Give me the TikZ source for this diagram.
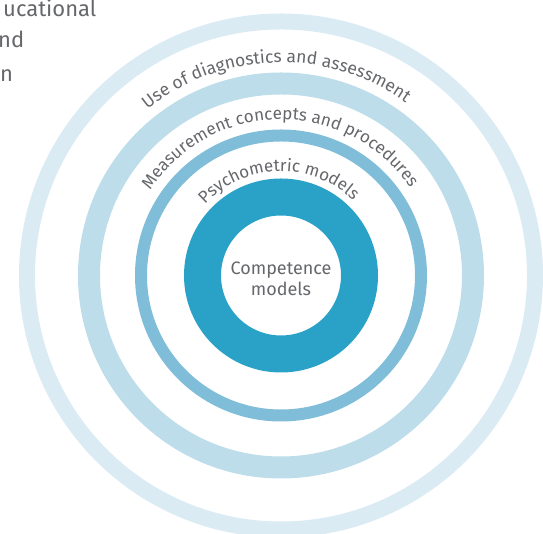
\documentclass[tikz,border=0pt]{standalone}
\usepackage{fontspec}
\setmainfont{Fira Sans}
\usetikzlibrary{decorations.text,calc}
\definecolor{ringA}{HTML}{DAEBF4}
\definecolor{ringB}{HTML}{BCDDE9}
\definecolor{ringC}{HTML}{7FBDD9}
\definecolor{ringD}{HTML}{2AA1C7}
\definecolor{txt}{HTML}{65676B}
\tikzset{
  tl/.style={inner sep=0pt, anchor=base west, text=txt, font=\fontsize{22}{22}\selectfont},
  arctext/.style={decorate, decoration={text along path, text align=center, text={#1}}}
}
\begin{document}
\begin{tikzpicture}[x=1pt,y=1pt]
\useasboundingbox (0,0) rectangle (543,534);
\coordinate (C) at (281,258.5);
\draw[ringA, line width=16pt] (C) circle[radius=254];
\draw[ringB, line width=22pt] (C) circle[radius=192];
\draw[ringC, line width=12pt] (C) circle[radius=140];
\draw[ringD, line width=37pt] (C) circle[radius=78.5];
\path[arctext={|\fontsize{17.5}{17.5}\selectfont\color{txt}|Use of diagnostics and assessment}]
  ($(C)+(181.5:213)$) arc[start angle=181.5, end angle=1.5, radius=213];
\path[arctext={|\fontsize{17.1}{17.1}\selectfont\color{txt}|Measurement concepts and procedures}]
  ($(C)+(180.5:156)$) arc[start angle=180.5, end angle=0.5, radius=156];
\path[arctext={|\fontsize{17}{17}\selectfont\color{txt}|Psychometric models}]
  ($(C)+(181.5:104)$) arc[start angle=181.5, end angle=1.5, radius=104];
\node[align=center, text=txt, font=\fontsize{18}{21}\selectfont] (comp) at (281,255) {Competence\\models};
\node[tl] (t1) at (3,517) {ucational};
\node[tl] (t2) at (-2,486) {nd};
\node[tl] (t3) at (0,452) {n};
\end{tikzpicture}
\end{document}
